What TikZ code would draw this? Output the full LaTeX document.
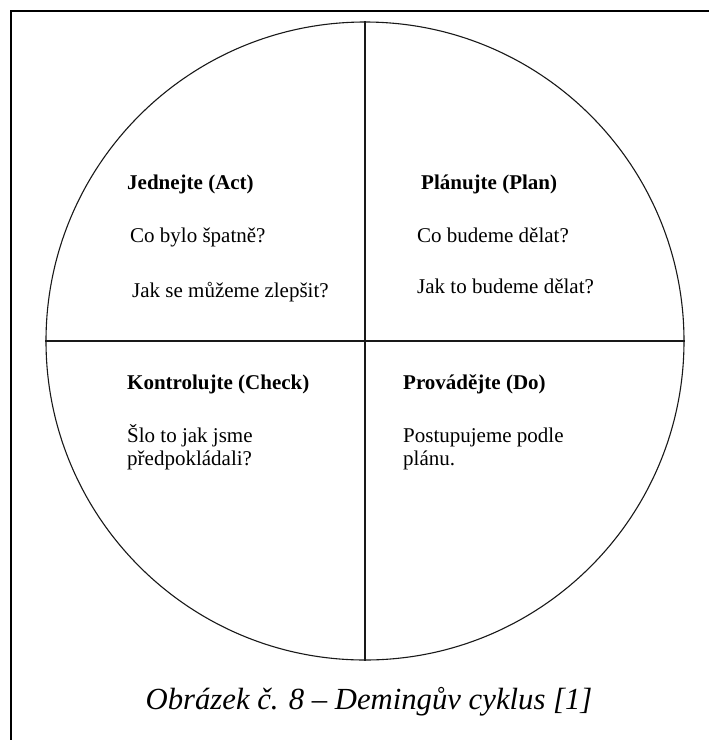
\documentclass[tikz,border=0pt]{standalone}
\usepackage{fontspec}
\setmainfont{Liberation Serif}
\begin{document}
\begin{tikzpicture}[x=1pt,y=-1pt,
  head/.style={anchor=base west,inner sep=0pt,font=\fontsize{21}{23}\selectfont\bfseries},
  body/.style={anchor=base west,inner sep=0pt,font=\fontsize{21}{23.5}\selectfont},
  ring/.style={circle,draw=black!90,line width=1.1pt,minimum size=638pt,inner sep=0pt},
  split/.style={draw=black!90,line width=1.1pt}]
\useasboundingbox (0,0) rectangle (709,740);
\fill[white] (0,0) rectangle (709,740);
% outer frame (left and top edges)
\coordinate (fbl) at (11,740);
\coordinate (ftl) at (11,11);
\coordinate (ftr) at (709,11);
\draw[line width=1.6pt] (fbl) -- (ftl) -- (ftr);
% cycle circle divided into four quadrants
\node[ring] (c) at (365,341) {};
\draw[split] (c.north) -- (c.south);
\draw[split] (c.west) -- (c.east);
% Act
\node[head] (acth) at (127,189) {Jednejte (Act)};
\node[body] (act1) at (130,242) {Co bylo špatně?};
\node[body] (act2) at (132,297) {Jak se můžeme zlepšit?};
% Plan
\node[head] (planh) at (421,189) {Plánujte (Plan)};
\node[body] (plan1) at (417,242) {Co budeme dělat?};
\node[body] (plan2) at (417,293) {Jak to budeme dělat?};
% Check
\node[head] (checkh) at (127,389) {Kontrolujte (Check)};
\node[body] (check1) at (127,442) {Šlo to jak jsme};
\node[body] (check2) at (127,465) {předpokládali?};
% Do
\node[head] (doh) at (403,389) {Provádějte (Do)};
\node[body] (do1) at (403,442) {Postupujeme podle};
\node[body] (do2) at (403,465) {plánu.};
% caption
\node[anchor=base,inner sep=0pt,font=\fontsize{30.7}{33}\selectfont\itshape] (cap) at (369,709) {Obrázek č. 8 – Demingův cyklus [1]};
\end{tikzpicture}
\end{document}
